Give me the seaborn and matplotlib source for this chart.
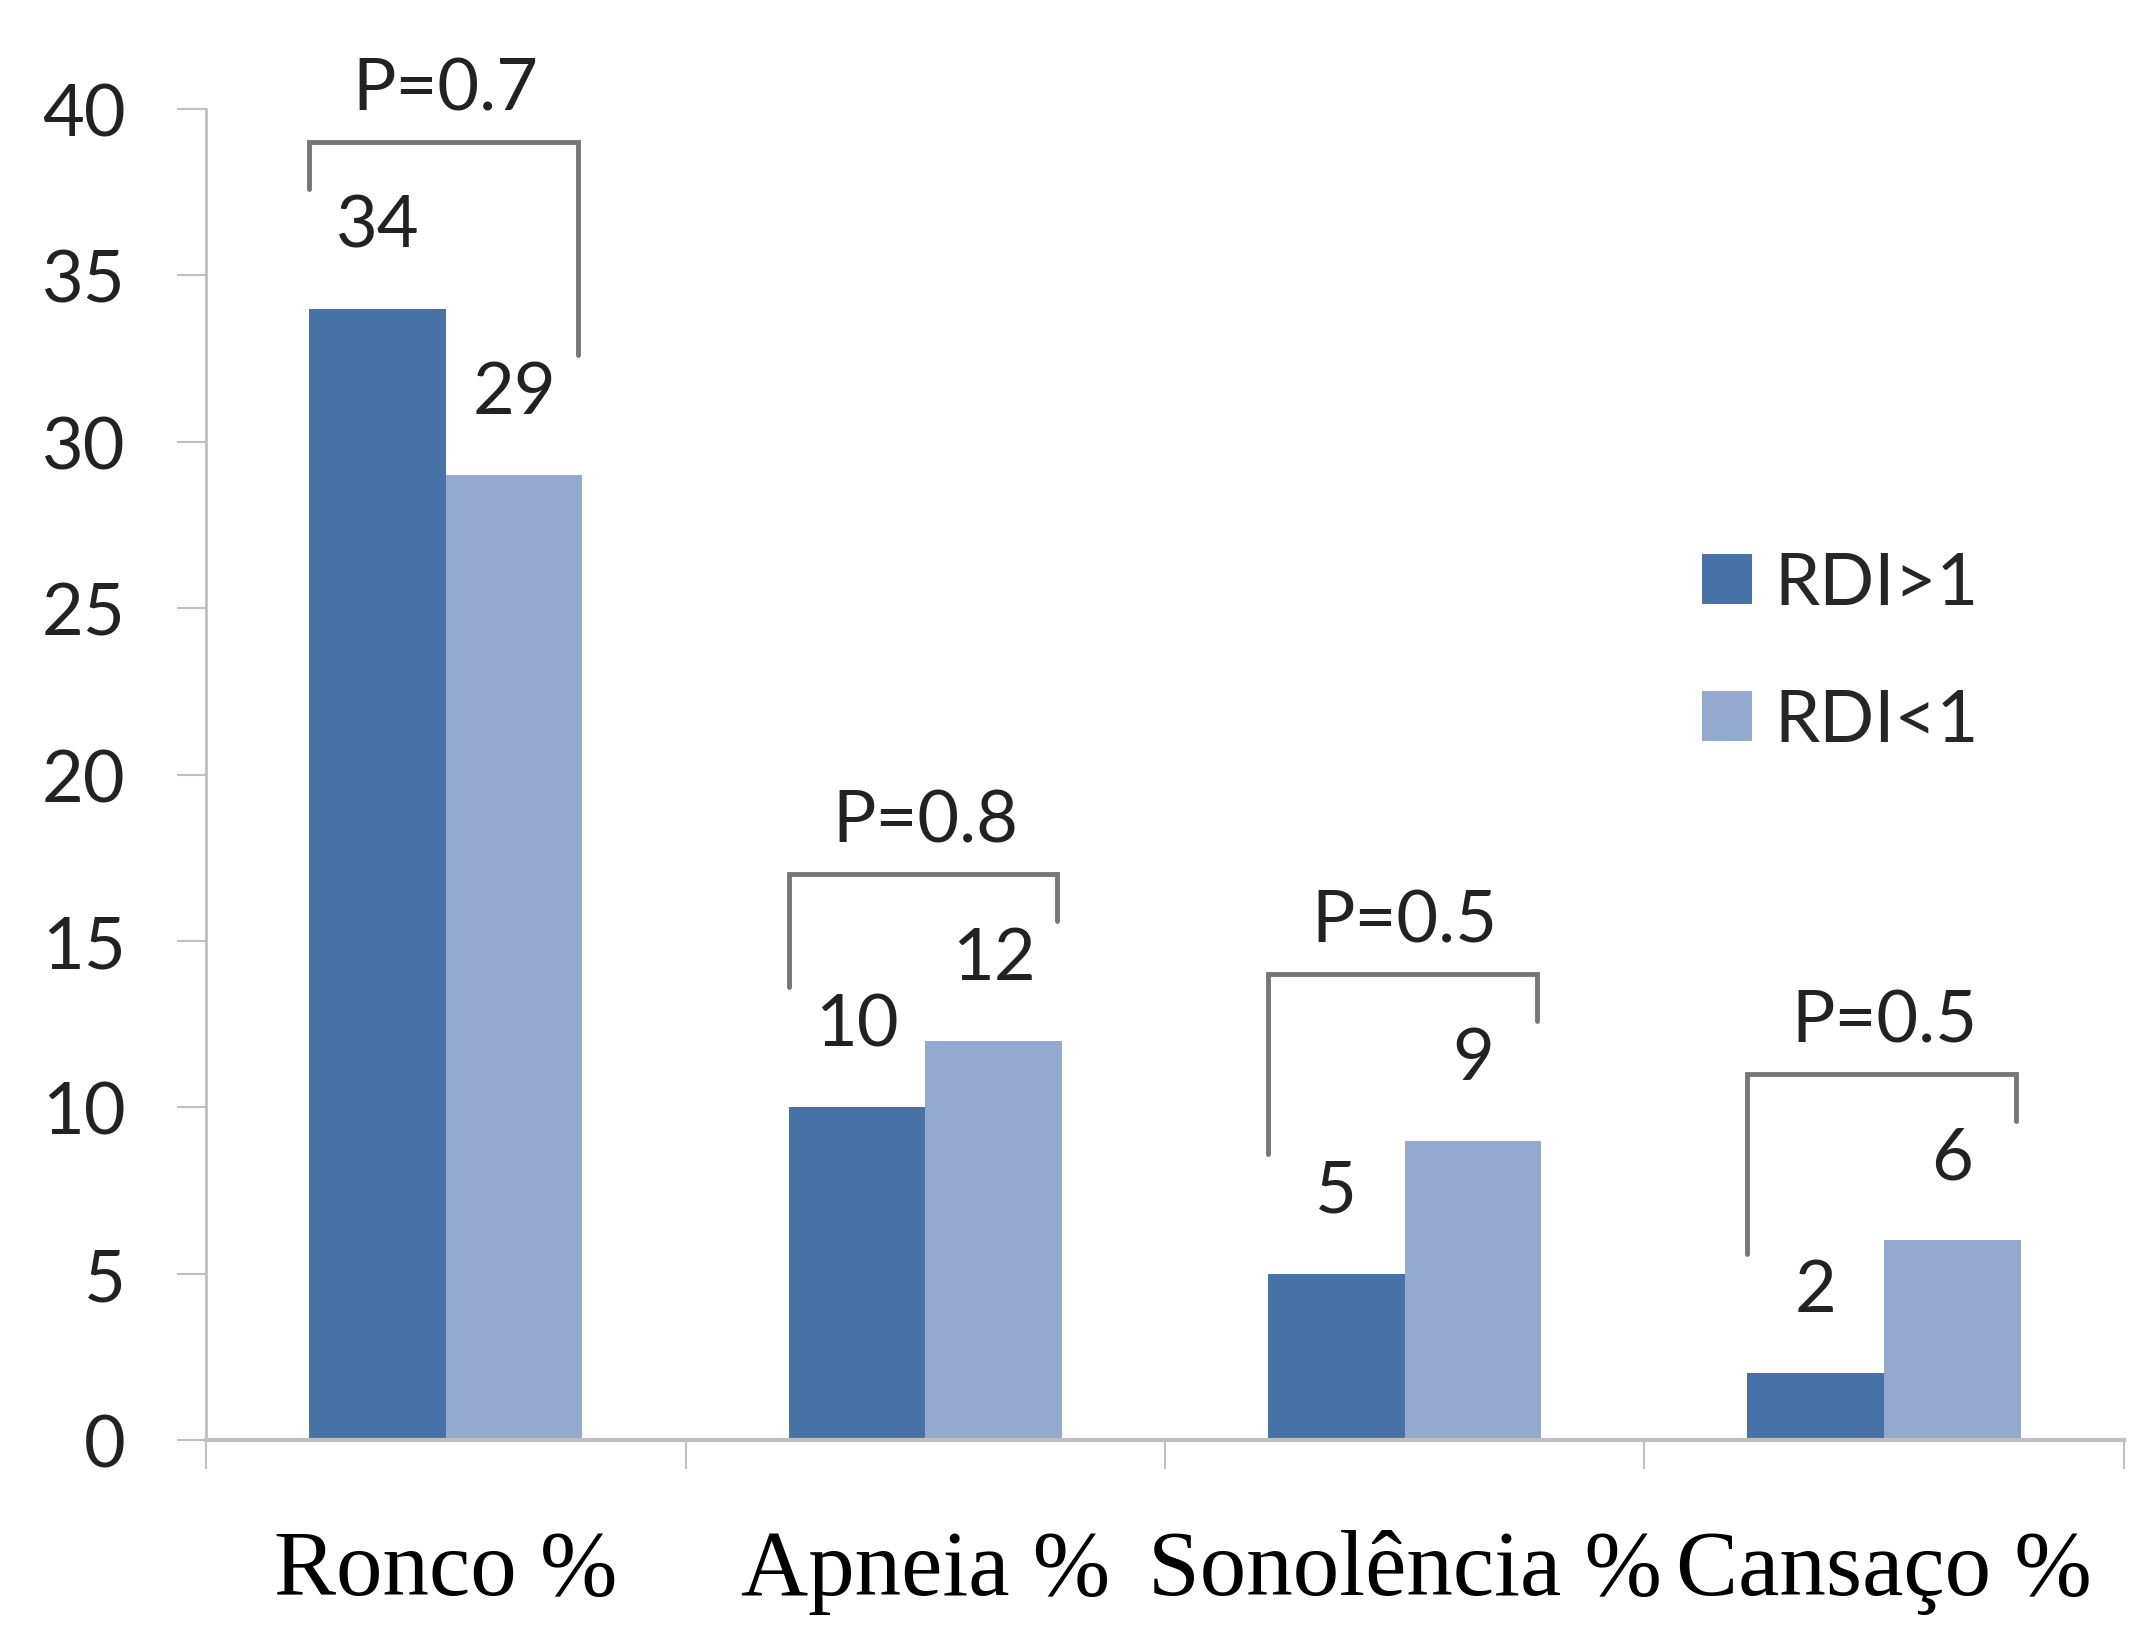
import pandas as pd
import numpy as np
import matplotlib
matplotlib.use("Agg")
import matplotlib.pyplot as plt
import seaborn as sns

# --- dados ---
categories = ['Ronco %', 'Apneia %', 'Sonolência %', 'Cansaço %']
groups = ['RDI>1', 'RDI<1']
rdi_above = [34, 10, 5, 2]
rdi_below = [29, 12, 9, 6]
p_values = ['P=0.7', 'P=0.8', 'P=0.5', 'P=0.5']
y_ticks = [0, 5, 10, 15, 20, 25, 30, 35, 40]

DARK = '#4672A8'
LIGHT = '#94A9CF'
GREY = '#BFBFBF'
BRACKET = '#767676'

df = pd.DataFrame({
    'cat': categories * 2,
    'grp': [groups[0]] * 4 + [groups[1]] * 4,
    'val': rdi_above + rdi_below,
})

sns.set_theme(style="white")
plt.rcParams['font.family'] = ['Lato', 'DejaVu Sans']

fig = plt.figure(figsize=(21.54, 16.33), dpi=100)
ax = fig.add_axes([0.0957, 0.1176, 0.8903, 0.815])

sns.barplot(data=df, x='cat', y='val', hue='grp', palette=[DARK, LIGHT],
            width=0.57, saturation=1, errorbar=None, ax=ax, linewidth=0)

# etiquetas de valores
for cont in ax.containers:
    ax.bar_label(cont, fmt='%d', padding=36, fontsize=52, color='#222222')

# colchetes com P
for i, p in enumerate(p_values):
    top = max(rdi_above[i], rdi_below[i]) + 5
    xl, xr = i - 0.285, i + 0.275
    ax.plot([xl, xl, xr, xr],
            [rdi_above[i] + 3.6, top, top, rdi_below[i] + 3.6],
            color=BRACKET, lw=3.5, clip_on=False, solid_joinstyle='miter')
    ax.text(i, top + 1.6, p, ha='center', va='center', fontsize=52,
            color='#222222', clip_on=False)

ax.set_ylim(0, 40)
ax.set_xlim(-0.5, 3.5)
ax.set_yticks(y_ticks)
ax.set_yticklabels([str(t) for t in y_ticks], fontsize=52, color='#222222')
ax.set_xticks(range(len(categories)))
ax.set_xticklabels(categories, fontsize=67, family='Liberation Serif', color='black')
ax.set_xticks(np.arange(-0.5, 4.0, 1.0), minor=True)
ax.tick_params(axis='x', which='major', bottom=True, length=0, pad=64)
ax.tick_params(axis='x', which='minor', bottom=True, length=21, width=1.5,
               color=GREY, direction='out')
ax.tick_params(axis='y', left=True, length=21, width=1.5, color=GREY,
               direction='out', pad=37)
ax.set_xlabel('')
ax.set_ylabel('')

for s in ['top', 'right']:
    ax.spines[s].set_visible(False)
ax.spines['left'].set_color(GREY)
ax.spines['left'].set_linewidth(2)
ax.spines['bottom'].set_color(GREY)
ax.spines['bottom'].set_linewidth(3)

handles, labels = ax.get_legend_handles_labels()
ax.legend(handles, labels, loc='center left', bbox_to_anchor=(0.79, 0.60),
          bbox_transform=fig.transFigure, frameon=False, fontsize=52,
          handlelength=0.7, handleheight=0.7, handletextpad=0.3,
          labelspacing=1.0, borderpad=0, borderaxespad=0)

fig.savefig('out.png', dpi=100, facecolor='white')
plt.close()
